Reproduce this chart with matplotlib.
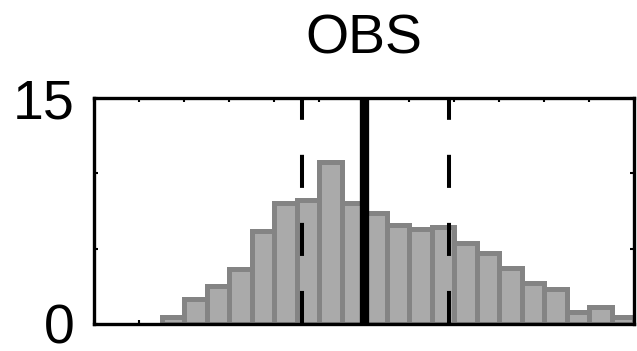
import matplotlib
matplotlib.use("Agg")
import matplotlib.pyplot as plt
import numpy as np

plt.rcParams['font.family'] = ['Liberation Sans', 'DejaVu Sans']
plt.rcParams['lines.scale_dashes'] = False

# Histogram data (bin left edges, width 0.5)
bin_lefts = [1.5, 2.0, 2.5, 3.0, 3.5, 4.0, 4.5, 5.0, 5.5, 6.0, 6.5,
             7.0, 7.5, 8.0, 8.5, 9.0, 9.5, 10.0, 10.5, 11.0, 11.5]
counts = [0.48, 1.68, 2.5, 3.64, 6.18, 8.05, 8.23, 10.72, 8.0, 7.39, 6.57,
          6.28, 6.41, 5.35, 4.69, 3.69, 2.7, 2.3, 0.82, 1.1, 0.49]
bin_width = 0.5
median_value = 6.0
lower_quant = 4.62
upper_quant = 7.88
title = "OBS"
ytick_vals = [0, 5, 10, 15]
ytick_labels = ["0", "", "", "15"]
xtick_vals = list(range(0, 13))

fig = plt.figure(figsize=(6.37, 3.51), dpi=100)
ax = fig.add_axes([94.3 / 637, 1 - 324 / 351, 540 / 637, 226 / 351])

ax.bar(bin_lefts, counts, width=bin_width, align='edge',
       color='#aaaaaa', edgecolor='#848484', linewidth=3.6, zorder=2)

ax.plot([median_value, median_value], [0, 15], color='black',
        linewidth=6.7, solid_capstyle='butt', zorder=3)
for q in (lower_quant, upper_quant):
    ax.plot([q, q], [0, 15], color='black', linewidth=2.9, zorder=3,
            linestyle=(0, (23.8, 25.2)), dash_capstyle='butt')

ax.set_xlim(0, 12)
ax.set_ylim(0, 15)
ax.set_xticks(xtick_vals)
ax.set_xticklabels([])
ax.set_yticks(ytick_vals)
ax.set_yticklabels(ytick_labels)

ax.tick_params(axis='both', direction='in', length=3.2, width=1.5,
               top=True, right=True, labelsize=40, pad=13.9)
for s in ax.spines.values():
    s.set_linewidth(2.4)
    s.set_zorder(5)

ax.set_title(title, fontsize=40, pad=32)

fig.savefig("out.png", dpi=100)
